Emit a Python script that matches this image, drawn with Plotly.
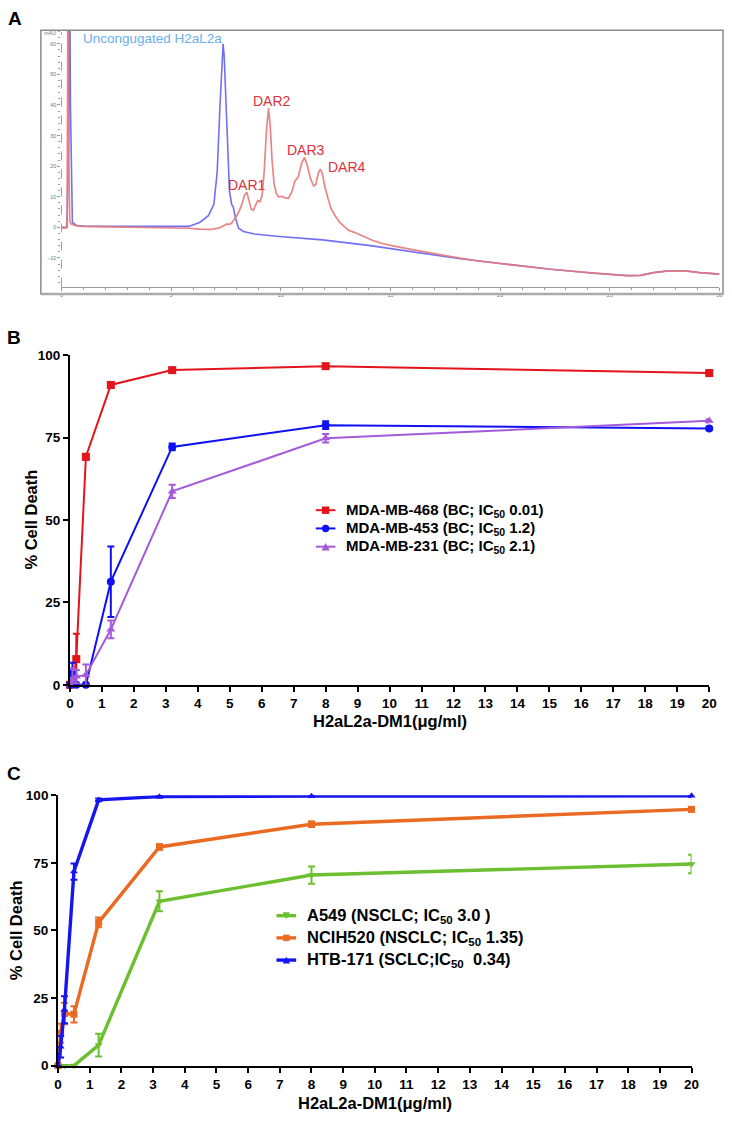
import plotly.graph_objects as go

W, H = 732, 1122
def px(x): return x / W
def py(y): return 1 - y / H

# ---------------- Panel A : chromatogram (time min, mAU) ----------------
blue_t = [0.0, 0.25, 0.33, 0.37, 0.41, 0.45, 0.5, 0.7, 1.0, 2.0, 3.0, 4.0, 5.0, 5.8, 6.3, 6.7,
          6.95, 7.1, 7.23, 7.33, 7.37, 7.42, 7.48, 7.56, 7.66, 7.76, 7.83, 7.93, 8.07, 8.3, 8.8,
          9.8, 11.9, 14.0, 16.0, 18.1, 20.2, 22.3, 24.3, 25.8, 26.4, 27.0, 27.6, 28.5, 29.1, 30.0]
blue_v = [0.0, 0.0, 30, 90, 40, 18, 1.5, 0.6, 0.4, 0.3, 0.3, 0.3, 0.3, 0.3, 1.6, 3.8,
          7.5, 18, 40, 56, 60.0, 56, 45, 29, 11.8, 7.5, 6.7, 3.2, -0.2, -1.4, -2.2,
          -2.9, -4.1, -5.9, -8.1, -10.2, -12.0, -13.7, -15.0, -15.8, -15.7, -14.8, -14.3, -14.3, -14.8, -15.3]

red_t = [0.0, 0.22, 0.26, 0.30, 0.34, 0.38, 0.45, 0.7, 1.0, 2.0, 3.0, 4.0, 5.0, 5.8, 6.3, 6.8,
         7.2, 7.45, 7.55, 7.65, 7.76, 7.9, 8.05, 8.2, 8.35, 8.45, 8.55, 8.65, 8.75, 8.85, 8.95,
         9.05, 9.15, 9.25, 9.35, 9.44, 9.52, 9.6, 9.7, 9.8, 9.9, 10.05, 10.2, 10.35, 10.5, 10.65,
         10.8, 10.95, 11.08, 11.2, 11.35, 11.5, 11.6, 11.7, 11.8, 11.9, 12.0, 12.15, 12.3, 12.5,
         12.7, 12.9, 13.1, 13.4, 13.8, 14.2, 14.6, 15.0, 16.0, 17.0, 18.1, 19.0, 20.2, 22.3,
         24.3, 25.8, 26.4, 27.0, 27.6, 28.5, 29.1, 30.0]
red_v = [-0.2, -0.2, 2, 90, 20, 2, 1.0, 0.5, 0.3, 0.2, 0.1, 0.0, -0.1, -0.3, -0.6, -0.7,
         -0.2, 0.6, 1.1, 0.9, 1.4, 2.8, 4.5, 7.0, 10.5, 11.5, 9.0, 6.0, 5.6, 7.5, 8.8,
         8.4, 10.5, 19, 32, 38.9, 33, 22, 14, 11, 10, 10.1, 9.6, 9.5, 11.5, 15.2,
         16.5, 21, 22.8, 20.5, 16, 13.5, 14, 17.5, 19, 17.5, 13.5, 9.5, 6, 3.5,
         1.5, 0.2, -1.0, -1.8, -3.0, -4.3, -5.2, -5.9, -7.3, -8.7, -10.0, -11.0, -12.0, -13.7,
         -15.0, -15.8, -15.7, -14.8, -14.3, -14.3, -14.8, -15.3]

peak_labels = ["Uncongugated H2aL2a", "DAR1", "DAR2", "DAR3", "DAR4"]
peak_label_x = [4.14, 8.46, 9.62, 11.15, 13.0]
peak_label_y = [61.8, 14.0, 41.4, 25.3, 19.7]

# ---------------- Panel B ----------------
dose = [0, 0.08, 0.2, 0.5, 1.28, 3.2, 8, 20]
b_names = ["MDA-MB-468 (BC; IC<sub>50</sub> 0.01)",
           "MDA-MB-453 (BC; IC<sub>50</sub> 1.2)",
           "MDA-MB-231 (BC; IC<sub>50</sub> 2.1)"]
b468 = [0, 0.5, 7.8, 69.2, 91.0, 95.5, 96.7, 94.6]
b468_err = [0, 0.5, 7.7, 0.8, 0.8, 0.6, 0.6, 0.6]
b453 = [0, 3.5, 0, 0, 31.3, 72.2, 78.8, 77.8]
b453_err = [0, 3.2, 0, 0, 10.7, 1.0, 1.2, 0.5]
b231 = [0, 1.5, 2.5, 3.0, 16.8, 58.7, 74.8, 80.1]
b231_err = [0, 3.5, 2.0, 3.2, 2.7, 2.0, 1.3, 0.5]

# ---------------- Panel C ----------------
c_names = ["A549 (NSCLC; IC<sub>50</sub> 3.0 )",
           "NCIH520 (NSCLC; IC<sub>50</sub> 1.35)",
           "HTB-171 (SCLC;IC<sub>50</sub>  0.34)"]
cA549 = [0, 0, 0, 0, 7.6, 60.8, 70.5, 74.6]
cA549_err = [0, 0, 0, 0.3, 4.2, 3.7, 3.2, 3.4]
cH520 = [0, 12.0, 19.3, 19.0, 53.0, 80.9, 89.3, 94.8]
cH520_err = [0, 3.5, 4.0, 3.0, 1.8, 1.0, 1.0, 0.8]
cHTB = [0, 7.0, 20.7, 71.8, 98.3, 99.5, 99.7, 99.8]
cHTB_err = [0, 4.0, 5.0, 3.0, 0.5, 0.3, 0.3, 0.3]

x_ticks = list(range(0, 21))
y_ticks = [0, 25, 50, 75, 100]

FONT = "Liberation Sans, Arial, sans-serif"
NARROW = "Liberation Sans Narrow, Arial Narrow, Liberation Sans, sans-serif"
fig = go.Figure()

# Panel A traces
fig.add_trace(go.Scatter(x=blue_t, y=blue_v, mode="lines", xaxis="x", yaxis="y",
                         line=dict(color="rgb(112,112,245)", width=1.6), showlegend=False))
fig.add_trace(go.Scatter(x=red_t, y=red_v, mode="lines", xaxis="x", yaxis="y",
                         line=dict(color="rgba(232,120,120,0.9)", width=1.7), showlegend=False))

# Panel B traces
b_cols = ["#E3141C", "#1010F5", "#A45BDA"]
b_syms = ["square", "circle", "triangle-up"]
for name, yv, ev, col, sym in zip(b_names, [b468, b453, b231], [b468_err, b453_err, b231_err], b_cols, b_syms):
    fig.add_trace(go.Scatter(x=dose, y=yv, name=name, mode="lines+markers", xaxis="x2", yaxis="y2",
                             line=dict(color=col, width=2), marker=dict(symbol=sym, size=8, color=col),
                             error_y=dict(type="data", array=ev, visible=True, thickness=2, width=3.5, color=col),
                             cliponaxis=False, showlegend=False))

# Panel C traces
c_cols = ["#6CBF30", "#EA6A22", "#1515F0"]
c_syms = ["triangle-down", "square", "triangle-up"]
for name, yv, ev, col, sym in zip(c_names, [cA549, cH520, cHTB], [cA549_err, cH520_err, cHTB_err], c_cols, c_syms):
    fig.add_trace(go.Scatter(x=dose, y=yv, name=name, mode="lines+markers", xaxis="x3", yaxis="y3",
                             line=dict(color=col, width=3.4), marker=dict(symbol=sym, size=7, color=col),
                             error_y=dict(type="data", array=ev, visible=True, thickness=2, width=3.5, color=col),
                             cliponaxis=False, showlegend=False))

tickf = dict(family=FONT, size=13.5, color="black", weight="bold")
def dose_axis(domain, anchor):
    return dict(domain=domain, anchor=anchor, range=[0, 20], tickmode="array", tickvals=x_ticks,
                showline=True, linecolor="black", linewidth=2, ticks="outside", ticklen=5, tickwidth=2,
                tickcolor="black", tickfont=tickf, showgrid=False, zeroline=False)
def pct_axis(domain, anchor):
    return dict(domain=domain, anchor=anchor, range=[0, 100], tickmode="array", tickvals=y_ticks,
                showline=True, linecolor="black", linewidth=2, ticks="outside", ticklen=5, tickwidth=2,
                tickcolor="black", tickfont=tickf, showgrid=False, zeroline=False)

small = dict(family=FONT, size=5.5, color="#777")
A_TOP, A_AXIS = 23.5, 283.3
fig.update_layout(
    width=W, height=H, margin=dict(l=0, r=0, t=0, b=0), autosize=False,
    paper_bgcolor="white", plot_bgcolor="white", showlegend=False,
    xaxis=dict(domain=[px(58.4), px(727.4)], anchor="y", range=[0, 30], dtick=5,
               showline=True, linecolor="#999", linewidth=1, ticks="outside", ticklen=3,
               tickcolor="#999", tickfont=small, showgrid=False, zeroline=False,
               minor=dict(dtick=1, ticks="outside", ticklen=2, tickcolor="#999")),
    yaxis=dict(domain=[py(A_AXIS), py(A_TOP)], anchor="x", range=[-19.35, 64.45], dtick=10,
               showline=False, ticks="outside", ticklen=3, tickcolor="#999", tickfont=small,
               showgrid=False, zeroline=False,
               minor=dict(dtick=2, ticks="outside", ticklen=2, tickcolor="#999")),
    xaxis2=dose_axis([px(67), px(717)], "y2"),
    yaxis2=pct_axis([py(687), py(353)], "x2"),
    xaxis3=dose_axis([px(55), px(699)], "y3"),
    yaxis3=pct_axis([py(1073), py(799)], "x3"),
)

shapes = []
# Panel A frame and dashed y axis
shapes.append(dict(type="rect", xref="paper", yref="paper", x0=px(37.5), x1=px(731), y0=py(291), y1=py(A_TOP),
                   line=dict(color="#8a8a8a", width=1.5)))
shapes.append(dict(type="line", xref="paper", yref="paper", x0=px(37.5), x1=px(731), y0=py(291), y1=py(291),
                   line=dict(color="#aaaaaa", width=2.5)))
shapes.append(dict(type="line", xref="paper", yref="paper", x0=px(58.4), x1=px(58.4), y0=py(A_AXIS), y1=py(A_TOP + 2),
                   line=dict(color="#999", width=1, dash="dash")))

ann = []
ann.append(dict(text="mAU", x=px(47), y=py(26.5), xref="paper", yref="paper", showarrow=False,
                xanchor="center", yanchor="middle", font=small))
label_cols = ["#6AAEEE", "#D8333D", "#D8333D", "#D8333D", "#D8333D"]
label_fonts = [FONT, NARROW, NARROW, NARROW, NARROW]
label_sizes = [13.5, 14, 14, 14, 14]
for t, xx, yy, c, f, s in zip(peak_labels, peak_label_x, peak_label_y, label_cols, label_fonts, label_sizes):
    ann.append(dict(text=t, x=xx, y=yy, xref="x", yref="y", showarrow=False,
                    xanchor="center", yanchor="middle",
                    font=dict(family=f, size=s, color=c)))

# ---- legends (sample line + marker + text), drawn in page pixels ----
def tri(cx, cy, s, up=True):
    h = s * 0.9
    if up:
        return f"M {px(cx - s/2)} {py(cy + h/2)} L {px(cx + s/2)} {py(cy + h/2)} L {px(cx)} {py(cy - h/2)} Z"
    return f"M {px(cx - s/2)} {py(cy - h/2)} L {px(cx + s/2)} {py(cy - h/2)} L {px(cx)} {py(cy + h/2)} Z"

def legend_block(names, cols, syms, x0, x1, text_x, rows, lw, msize, fsize):
    for name, col, sym, ry in zip(names, cols, syms, rows):
        cx = (x0 + x1) / 2
        shapes.append(dict(type="line", xref="paper", yref="paper", x0=px(x0), x1=px(x1),
                           y0=py(ry), y1=py(ry), line=dict(color=col, width=lw)))
        s = msize
        if sym == "square":
            shapes.append(dict(type="rect", xref="paper", yref="paper", x0=px(cx - s/2), x1=px(cx + s/2),
                               y0=py(ry + s/2), y1=py(ry - s/2), fillcolor=col, line=dict(width=0)))
        elif sym == "circle":
            shapes.append(dict(type="circle", xref="paper", yref="paper", x0=px(cx - s/2), x1=px(cx + s/2),
                               y0=py(ry + s/2), y1=py(ry - s/2), fillcolor=col, line=dict(width=0)))
        else:
            shapes.append(dict(type="path", xref="paper", yref="paper", path=tri(cx, ry, s + 1, sym == "triangle-up"),
                               fillcolor=col, line=dict(width=0)))
        ann.append(dict(text=name, x=px(text_x), y=py(ry), xref="paper", yref="paper", showarrow=False,
                        xanchor="left", yanchor="middle",
                        font=dict(family=FONT, size=fsize, color="black", weight="bold")))

legend_block(b_names, b_cols, b_syms, 317, 337, 346, [510, 528.5, 547], 2, 7.5, 15)
legend_block(c_names, c_cols, c_syms, 277, 297, 306, [921, 943.5, 966], 3.4, 6.5, 16.5)

bold17 = dict(family=FONT, size=16.5, color="black", weight="bold")
lab = dict(family=FONT, size=19, color="black", weight="bold")
for t, xx, yy in [("A", 11, 12), ("B", 10, 335), ("C", 10, 777)]:
    ann.append(dict(text=t, x=px(xx), y=py(yy), xref="paper", yref="paper", showarrow=False,
                    xanchor="center", yanchor="middle", font=lab))
for t, xx, yy, ang in [("% Cell Death", 27, 520, -90), ("H2aL2a-DM1(μg/ml)", 392, 724, 0),
                       ("% Cell Death", 13, 936, -90), ("H2aL2a-DM1(μg/ml)", 377, 1111, 0)]:
    ann.append(dict(text=t, x=px(xx), y=py(yy), xref="paper", yref="paper", showarrow=False,
                    xanchor="center", yanchor="middle", textangle=ang, font=bold17))

fig.update_layout(annotations=ann, shapes=shapes)

fig.write_html("out.html", config={"displayModeBar": False},
               post_script="document.body.style.margin='0';document.body.style.overflow='hidden';")
